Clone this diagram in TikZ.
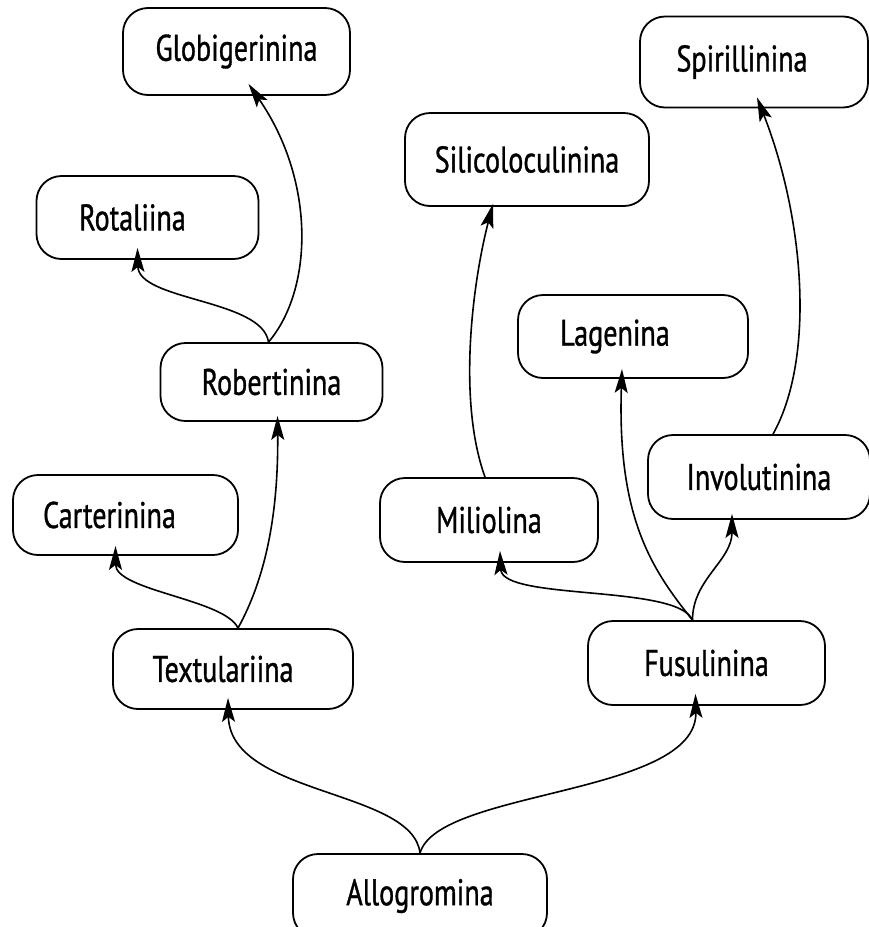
\documentclass[tikz,border=0pt]{standalone}
\usepackage{fontspec}
\setmainfont{PT Sans}[FakeStretch=0.76,FakeBold=0.9]
\usetikzlibrary{arrows.meta,calc}

\begin{document}
\begin{tikzpicture}[x=1pt,y=-1pt,
        taxon/.style={draw, line width=1.8pt, rounded corners=25pt,
            minimum width=222pt, minimum height=84pt, inner sep=0pt,
            font=\fontsize{37}{42}\selectfont},
        link/.style={line width=1.6pt, -{Stealth[length=24pt,width=13pt,inset=5pt]}}]

        \useasboundingbox (0,0) rectangle (869,927);

        % top row
        \node[taxon, minimum width=227, minimum height=87] (glob) at (236.5,51.5) {Globigerinina};
        \node[taxon, minimum width=228, minimum height=91] (spir) at (754,62) {Spirillinina\hspace*{24pt}};
        \node[taxon, minimum width=244, minimum height=93] (sili) at (527,159.5) {Silicoloculinina};
        \node[taxon, minimum height=83] (rota) at (147.5,217.5) {Rotaliina\hspace*{30pt}};

        % middle
        \node[taxon, minimum width=230, minimum height=83] (lage) at (633,336.5) {Lagenina\hspace*{36pt}};
        \node[taxon, minimum height=78] (robe) at (271.5,382) {Robertinina};
        \node[taxon, minimum width=225, minimum height=80] (cart) at (125.5,515) {Carterinina\hspace*{32pt}};
        \node[taxon, minimum width=218] (mili) at (489,520) {Miliolina};
        \node[taxon] (invo) at (759,477) {Involutinina};

        % bottom
        \node[taxon, minimum width=240, minimum height=80] (textu) at (233,669) {Textulariina\hspace*{20pt}};
        \node[taxon, minimum width=237] (fusu) at (706.5,663) {Fusulinina};
        \node[taxon, minimum width=254] (allo) at (420,896) {Allogromina};

        % from Allogromina
        \draw[link] (allo.north) .. controls +(-7,-64) and +(2,98) .. ($(textu.south)+(-5,-12)$);
        \draw[link] (allo.north) .. controls +(18,-64) and +(2,102) .. ($(fusu.south)+(-11,-12)$);

        % from Textulariina
        \draw[link] ($(textu.north)+(5,0)$) .. controls +(-13,-29) and +(0,45) .. ($(cart.south)+(-10,-10)$);
        \draw[link] ($(textu.north)+(5,0)$) .. controls +(27,-49) and +(1,100) .. ($(robe.south)+(6,-6)$);

        % from Robertinina
        \draw[link] ($(robe.north)+(-3,0)$) .. controls +(-6,-43) and +(1,53) .. ($(rota.south)+(-10,-12)$);
        \draw[link] ($(robe.north)+(-3,0)$) .. controls +(45,-53) and +(67,97) .. ($(glob.south)+(12,-12)$);

        % from Fusulinina
        \draw[link] ($(fusu.north)+(-14,0)$) .. controls +(-15,-36) and +(2,50) .. ($(mili.south)+(11,-12)$);
        \draw[link] ($(fusu.north)+(-14,0)$) .. controls +(-40,-50) and +(-5,150) .. ($(lage.south)+(-11,-10)$);
        \draw[link] ($(fusu.north)+(-14,0)$) .. controls +(0,-41) and +(0,47) .. ($(invo.south)+(-27,-6)$);

        % upward from Miliolina and Involutinina
        \draw[link] ($(mili.north)+(-4,0)$) .. controls +(-28,-78) and +(-20,77) .. ($(sili.south)+(-34,-3)$);
        \draw[link] ($(invo.north)+(14,0)$) .. controls +(42,-75) and +(48,123) .. ($(spir.south)+(3,-11)$);
    \end{tikzpicture}
\end{document}
